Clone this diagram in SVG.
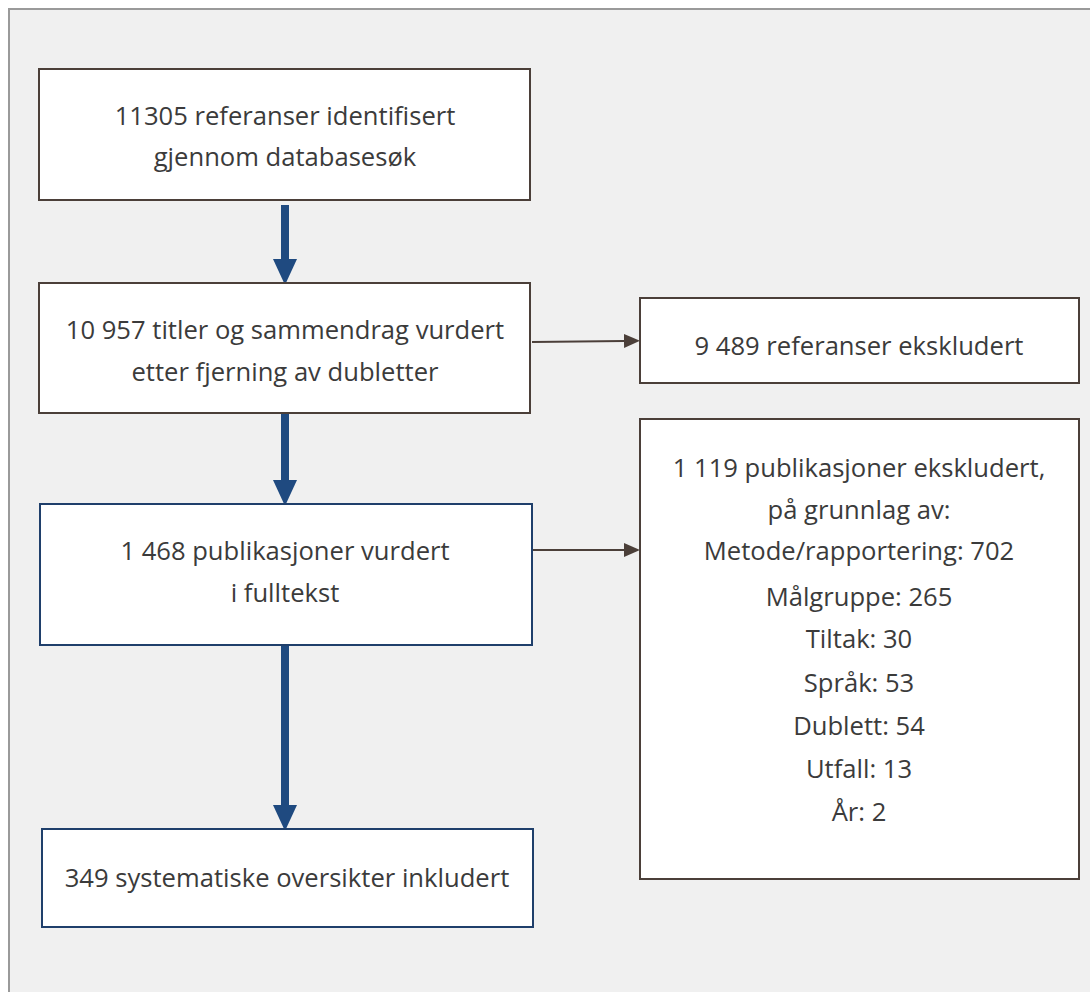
<svg xmlns="http://www.w3.org/2000/svg" width="1090" height="992" viewBox="0 0 1090 992">
<style>
.box{fill:#fff;stroke:#4b3f39;stroke-width:2}
.bbox{fill:#fff;stroke:#1f3f6b;stroke-width:2}
text{font-family:"Open Sans","Liberation Sans",Arial,sans-serif;font-size:25.6px;fill:#3b3b3b;text-anchor:middle}
.thick{stroke:#1f4a80;stroke-width:8;fill:none}
.thin{stroke:#4b3f39;stroke-width:2;fill:none}
</style>
<defs>
<marker id="bh" markerUnits="userSpaceOnUse" markerWidth="26" markerHeight="24" refX="0" refY="12" orient="auto" viewBox="0 0 26 24">
<path d="M0,0 L26,12 L0,24 Z" fill="#1f4a80"/>
</marker>
<marker id="th" markerUnits="userSpaceOnUse" markerWidth="16" markerHeight="14" refX="0" refY="7" orient="auto" viewBox="0 0 16 14">
<path d="M0,0 L16,7 L0,14 Z" fill="#4b3f39"/>
</marker>
</defs>
<rect x="9" y="9" width="1100" height="1000" fill="#f0f0f0" stroke="#9a9a9a" stroke-width="2"/>
<g id="connectors">
<line class="thick" x1="285" y1="205" x2="285" y2="259" marker-end="url(#bh)"/>
<line class="thick" x1="285" y1="414" x2="285" y2="480" marker-end="url(#bh)"/>
<line class="thick" x1="285" y1="646" x2="285" y2="805" marker-end="url(#bh)"/>
<line class="thin" x1="532" y1="342" x2="624" y2="341" marker-end="url(#th)"/>
<line class="thin" x1="533" y1="550" x2="624" y2="550" marker-end="url(#th)"/>
</g>
<g id="n1">
<rect class="box" x="39" y="69" width="491" height="131"/>
<text x="285" y="125">11305 referanser identifisert</text>
<text x="285" y="166">gjennom databasesøk</text>
</g>
<g id="n2">
<rect class="box" x="39" y="283" width="491" height="130"/>
<text x="285" y="339">10 957 titler og sammendrag vurdert</text>
<text x="285" y="381">etter fjerning av dubletter</text>
</g>
<g id="n3">
<rect class="bbox" x="40" y="504" width="492" height="141"/>
<text x="285" y="560">1 468 publikasjoner vurdert</text>
<text x="285" y="602">i fulltekst</text>
</g>
<g id="n4">
<rect class="bbox" x="42" y="829" width="491" height="98"/>
<text x="287" y="887">349 systematiske oversikter inkludert</text>
</g>
<g id="n5">
<rect class="box" x="640" y="298" width="439" height="85"/>
<text x="859" y="355">9 489 referanser ekskludert</text>
</g>
<g id="n6">
<rect class="box" x="640" y="419" width="439" height="460"/>
<text x="859" y="477">1 119 publikasjoner ekskludert,</text>
<text x="859" y="519">på grunnlag av:</text>
<text x="859" y="560">Metode/rapportering: 702</text>
<text x="859" y="606">Målgruppe: 265</text>
<text x="859" y="648">Tiltak: 30</text>
<text x="859" y="692">Språk: 53</text>
<text x="859" y="735">Dublett: 54</text>
<text x="859" y="778">Utfall: 13</text>
<text x="859" y="821">År: 2</text>
</g>
</svg>
